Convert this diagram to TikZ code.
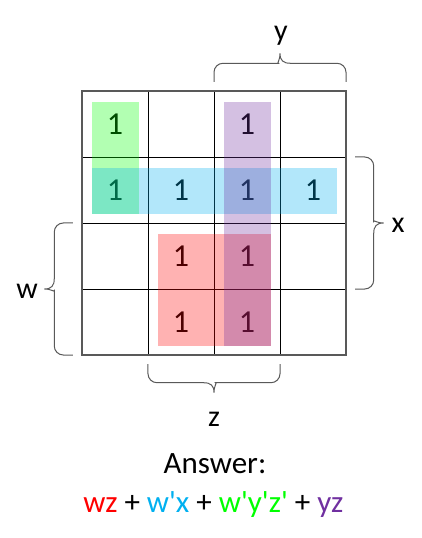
\documentclass[tikz,border=0pt]{standalone}
\usepackage{fontspec}
\setmainfont{Carlito}
\usetikzlibrary{positioning}

\definecolor{kred}{HTML}{FF0000}
\definecolor{kblue}{HTML}{00B0F0}
\definecolor{kgreen}{HTML}{00FF00}
\definecolor{kpurple}{HTML}{7030A0}
\definecolor{kgray}{HTML}{595959}

\newcommand{\kprime}{\textquotesingle}

\tikzset{
    one/.style={font=\fontsize{32}{34}\selectfont},
    lbl/.style={font=\fontsize{30}{32}\selectfont, anchor=base},
    kgroup/.style={fill=#1, fill opacity=0.3},
    pics/kbrace/.style={code={
        \draw[kgray, line width=1pt]
            (0,0) [rounded corners=9pt] -- (0,0.28) -- (0.84,0.28) [sharp corners]
            .. controls (0.95,0.28) and (1,0.32) .. (1,0.43)
            .. controls (1,0.32) and (1.05,0.28) .. (1.16,0.28)
            [rounded corners=9pt] -- (2,0.28) -- (2,0);
    }}
}

\begin{document}
\begin{tikzpicture}[x=66pt, y=66pt]
        \useasboundingbox (-1.2424,-2.7727) rectangle (5.1364,5.3788);

        % Griglia della mappa di Karnaugh
        \foreach \i in {1, 2, 3} {
            \draw[black, line width=0.8pt] (\i,0) -- (\i,4);
            \draw[black, line width=0.8pt] (0,\i) -- (4,\i);
        }
        \draw[kgray, line width=1.5pt] (0,0) rectangle (4,4);

        % Celle con valore 1
        \foreach \i/\j in {0/3, 2/3, 0/2, 1/2, 2/2, 3/2, 1/1, 2/1, 1/0, 2/0} {
            \node[one] (one\i\j) at (\i+0.5, \j+0.5) {1};
        }

        % Raggruppamenti (trasparenti)
        \fill[kgroup=kgreen] (0.15,2.14) rectangle (0.86,3.84);
        \fill[kgroup=kblue] (0.15,2.14) rectangle (3.86,2.84);
        \fill[kgroup=kred] (1.15,0.14) rectangle (2.86,1.84);
        \fill[kgroup=kpurple] (2.15,0.14) rectangle (2.86,3.84);

        % Parentesi graffe e variabili
        \pic at (2,4.14) {kbrace};
        \pic[rotate=-90] at (4.14,3) {kbrace};
        \pic[rotate=180] at (3,-0.14) {kbrace};
        \pic[rotate=90] at (-0.14,0) {kbrace};

        \node[lbl] (vary) at (3.015,4.76) {y};
        \node[lbl] (varx) at (4.79,1.85) {x};
        \node[lbl] (varw) at (-0.83,0.85) {w};
        \node[lbl] (varz) at (2,-1.076) {z};

        % Risultato
        \node[lbl, font=\fontsize{31}{34}\selectfont] (answer) at (2.015,-1.79) {Answer:};
        \node[lbl, font=\fontsize{31}{34}\selectfont] (expr) at (1.99,-2.38)
            {\textcolor{kred}{wz} + \textcolor{kblue}{w\kprime x} + \textcolor{kgreen}{w\kprime y\kprime z\kprime} + \textcolor{kpurple}{yz}};
    \end{tikzpicture}
\end{document}
